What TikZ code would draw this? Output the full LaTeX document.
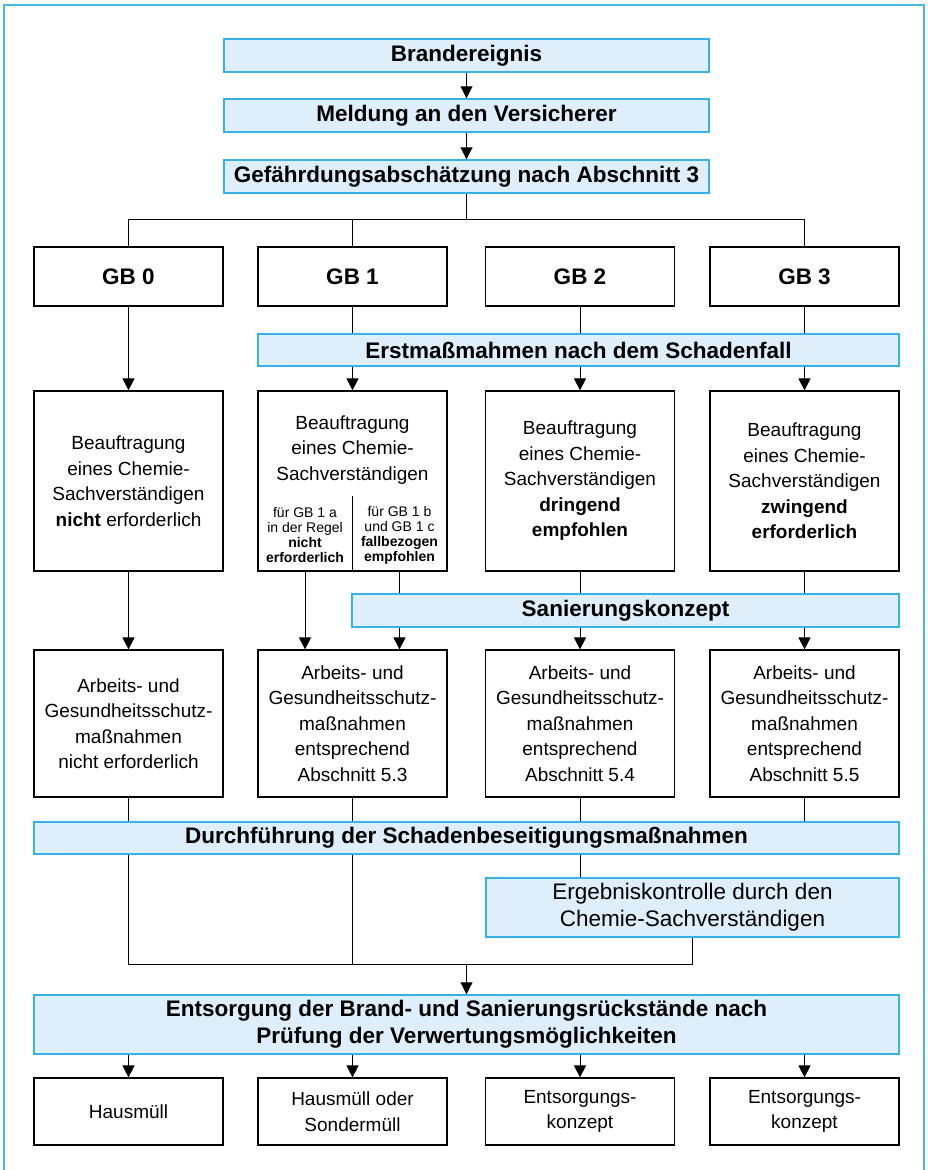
\documentclass[tikz,border=0pt]{standalone}
\usepackage{fontspec}
\setmainfont{Liberation Sans}
\usetikzlibrary{arrows.meta}
\definecolor{lb}{RGB}{222,238,250}
\definecolor{cb}{RGB}{55,178,232}
\definecolor{fr}{RGB}{70,185,235}
\newcommand{\mainsize}{\fontsize{19}{25.5}\selectfont}
\newcommand{\bigsize}{\fontsize{22.5}{27}\selectfont}
\newcommand{\smallsize}{\fontsize{14}{15}\selectfont}
\tikzset{
  bluebar/.style={draw=cb, fill=lb, line width=1.4pt, inner sep=0pt, align=center, font=\bigsize\bfseries},
  wbox/.style={draw=black, fill=white, line width=1.2pt, inner sep=0pt, align=center, font=\mainsize},
  gbbox/.style={wbox, font=\bigsize\bfseries, minimum width=189pt, minimum height=59pt},
  conn/.style={line width=0.9pt, draw=black},
  arr/.style={conn, -{Triangle[width=12pt,length=12pt]}},
  frameline/.style={draw=fr, line width=2pt}
}
\begin{document}
\begin{tikzpicture}[x=1pt,y=-1pt]
\useasboundingbox (0,0) rectangle (927,1170);
\draw[frameline] (4,1175) -- (4,5) -- (924,5) -- (924,1175);
% top chain
\node[bluebar, minimum width=485pt, minimum height=33pt] (brand) at (466.5,55.5) {Brandereignis};
\node[bluebar, minimum width=485pt, minimum height=33pt] (meld) at (466.5,115.5) {Meldung an den Versicherer};
\node[bluebar, minimum width=485pt, minimum height=33pt] (gef) at (466.5,176.5) {Gefährdungsabschätzung nach Abschnitt 3};
\draw[arr] (brand) -- (meld);
\draw[arr] (meld) -- (gef);
% GB boxes
\node[gbbox] (g0) at (128.5,276.5) {GB 0};
\node[gbbox] (g1) at (352.5,276.5) {GB 1};
\node[gbbox] (g2) at (580,276.5) {GB 2};
\node[gbbox] (g3) at (804.5,276.5) {GB 3};
\coordinate (fork) at (466.5,219);
\draw[conn] (gef) -- (fork);
\draw[conn] (g0.north) -- (g0.north |- fork) -- (g3.north |- fork) -- (g3.north);
\draw[conn] (g1.north) -- (g1.north |- fork);
% Erstmassnahmen
\node[bluebar, minimum width=641pt, minimum height=32pt] (erst) at (578.5,350) {Erstmaßmahmen nach dem Schadenfall};
\draw[conn] (g1.south) -- (g1.south |- erst.north);
\draw[conn] (g2.south) -- (g2.south |- erst.north);
\draw[conn] (g3.south) -- (g3.south |- erst.north);
% row 2
\node[wbox, minimum width=189pt, minimum height=180pt] (b0) at (128.5,481) {Beauftragung\\eines Chemie-\\Sachverständigen\\\textbf{nicht} erforderlich};
\node[wbox, minimum width=189pt, minimum height=180pt] (b1) at (352.5,481) {};
\node[font=\mainsize, align=center, inner sep=0pt] (b1t) at (352.5,450) {Beauftragung\\eines Chemie-\\Sachverständigen};
\node[font=\smallsize, align=center, inner sep=0pt] (b1l) at (305,535) {für GB 1 a\\in der Regel\\\textbf{nicht}\\\textbf{erforderlich}};
\node[font=\smallsize, align=center, inner sep=0pt] (b1r) at (399.5,535) {für GB 1 b\\und GB 1 c\\\textbf{fallbezogen}\\\textbf{empfohlen}};
\coordinate (div) at (352.5,496);
\draw[conn] (div) -- (div |- b1.south);
\node[wbox, minimum width=189pt, minimum height=180pt] (b2) at (580,481) {Beauftragung\\eines Chemie-\\Sachverständigen\\\textbf{dringend}\\\textbf{empfohlen}};
\node[wbox, minimum width=189pt, minimum height=180pt] (b3) at (804.5,481) {Beauftragung\\eines Chemie-\\Sachverständigen\\\textbf{zwingend}\\\textbf{erforderlich}};
\draw[arr] (g0) -- (b0);
\draw[arr] (erst.south -| b1) -- (b1);
\draw[arr] (erst.south -| b2) -- (b2);
\draw[arr] (erst.south -| b3) -- (b3);
% Sanierungskonzept
\node[bluebar, minimum width=547pt, minimum height=33pt] (san) at (625.5,610.5) {Sanierungskonzept};
% row 3
\node[wbox, minimum width=189pt, minimum height=147pt] (a0) at (128.5,723.5) {Arbeits- und\\Gesundheitsschutz-\\maßnahmen\\nicht erforderlich};
\node[wbox, minimum width=189pt, minimum height=147pt] (a1) at (352.5,723.5) {Arbeits- und\\Gesundheitsschutz-\\maßnahmen\\entsprechend\\Abschnitt 5.3};
\node[wbox, minimum width=189pt, minimum height=147pt] (a2) at (580,723.5) {Arbeits- und\\Gesundheitsschutz-\\maßnahmen\\entsprechend\\Abschnitt 5.4};
\node[wbox, minimum width=189pt, minimum height=147pt] (a3) at (804.5,723.5) {Arbeits- und\\Gesundheitsschutz-\\maßnahmen\\entsprechend\\Abschnitt 5.5};
\coordinate (b1a) at (305,571);
\coordinate (b1b) at (399.5,571);
\draw[arr] (b0) -- (a0);
\draw[arr] (b1a) -- (b1a |- a1.north);
\draw[conn] (b1b) -- (b1b |- san.north);
\draw[arr] (b1b |- san.south) -- (b1b |- a1.north);
\draw[conn] (b2.south) -- (b2.south |- san.north);
\draw[arr] (san.south -| a2) -- (a2);
\draw[conn] (b3.south) -- (b3.south |- san.north);
\draw[arr] (san.south -| a3) -- (a3);
% Durchfuehrung
\node[bluebar, minimum width=865pt, minimum height=32pt] (dur) at (466.5,838) {Durchführung der Schadenbeseitigungsmaßnahmen};
\draw[conn] (a0.south) -- (a0.south |- dur.north);
\draw[conn] (a1.south) -- (a1.south |- dur.north);
\draw[conn] (a2.south) -- (a2.south |- dur.north);
\draw[conn] (a3.south) -- (a3.south |- dur.north);
\node[bluebar, font=\bigsize, minimum width=413pt, minimum height=59pt] (erg) at (692.5,907.5) {Ergebniskontrolle durch den\\Chemie-Sachverständigen};
\coordinate (join) at (466.5,964);
\draw[conn] (dur.south -| a0) -- (a0 |- join) -- (erg.south |- join) -- (erg.south);
\draw[conn] (dur.south -| a1) -- (a1 |- join);
\draw[conn] (dur.south -| a2) -- (erg.north -| a2);
% Entsorgung
\node[bluebar, minimum width=865pt, minimum height=59pt] (ent) at (466.5,1024.5) {Entsorgung der Brand- und Sanierungsrückstände nach\\Prüfung der Verwertungsmöglichkeiten};
\draw[arr] (join) -- (ent);
\node[wbox, minimum width=189pt, minimum height=67pt] (e0) at (128.5,1111.5) {Hausmüll};
\node[wbox, minimum width=189pt, minimum height=67pt] (e1) at (352.5,1111.5) {Hausmüll oder\\Sondermüll};
\node[wbox, minimum width=189pt, minimum height=67pt] (e2) at (580,1111.5) {Entsorgungs-\\konzept};
\node[wbox, minimum width=189pt, minimum height=67pt] (e3) at (804.5,1111.5) {Entsorgungs-\\konzept};
\draw[arr] (ent.south -| e0) -- (e0);
\draw[arr] (ent.south -| e1) -- (e1);
\draw[arr] (ent.south -| e2) -- (e2);
\draw[arr] (ent.south -| e3) -- (e3);
\end{tikzpicture}
\end{document}
